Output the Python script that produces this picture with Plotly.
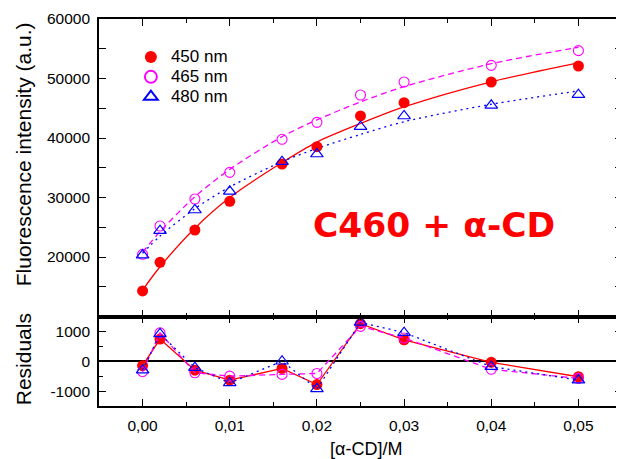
import plotly.graph_objects as go

# ---- data ----
conc = [0.0, 0.002, 0.006, 0.010, 0.016, 0.020, 0.025, 0.030, 0.040, 0.050]

int450 = [14290, 19100, 24540, 29360, 35630, 38540, 43700, 45940, 49410, 52100]
int465 = [20450, 25210, 29750, 34230, 39780, 42630, 47230, 49410, 52210, 54680]
int480 = [20330, 24430, 27900, 31040, 36020, 37310, 41900, 43700, 45490, 47280]

fit450 = [14440, 18360, 24840, 29990, 35870, 39320, 42440, 45220, 49440, 52620]
fit465 = [20800, 24260, 30140, 34730, 40220, 43040, 46060, 48630, 52480, 55250]
fit480 = [20630, 23520, 28120, 31770, 36020, 38240, 40600, 42740, 45670, 47910]

res450 = [-150, 745, -300, -635, -240, -780, 1260, 720, -35, -520]
res465 = [-350, 950, -385, -500, -440, -410, 1170, 780, -270, -575]
res480 = [-300, 915, -215, -725, 0, -925, 1300, 960, -180, -630]

series_names = ["450 nm", "465 nm", "480 nm"]

x_tickvals = [0.0, 0.01, 0.02, 0.03, 0.04, 0.05]
x_ticktext = ["0,00", "0,01", "0,02", "0,03", "0,04", "0,05"]
y_tickvals = [20000, 30000, 40000, 50000, 60000]
y_ticktext = ["20000", "30000", "40000", "50000", "60000"]
r_tickvals = [-1000, 0, 1000]
r_ticktext = ["-1000", "0", "1000"]

# ---- geometry (the page has an 8px body margin) ----
OFF = 8
W, H = 624 - OFF, 459 - OFF
L, R, T = 99 - OFF, 0, 19 - OFF
B = H - (406 - OFF)
PW, PH = W - L - R, H - T - B
split = 89.5 / PH  # bottom panel fraction


def px_x(px):
    return (px - OFF - L) / PW


def px_y(py):
    return (H - B - (py - OFF)) / PH


RED, MAG, BLUE = "#FF0000", "#FF00FF", "#0000FF"
FONT = "Arial, Liberation Sans, sans-serif"

fig = go.Figure()

styles = [
    (int450, fit450, res450, RED, dict(symbol="circle", size=11, color=RED), "solid"),
    (int465, fit465, res465, MAG, dict(symbol="circle-open", size=10, color=MAG, line=dict(width=1.1, color=MAG)), "6px,4px"),
    (int480, fit480, res480, BLUE, dict(symbol="triangle-up-open", size=11, color=BLUE, line=dict(width=1.2, color=BLUE)), "2px,4px"),
]

# fit curves (top panel)
for (d, f, r, c, m, dash) in styles:
    fig.add_trace(go.Scatter(x=conc, y=f, mode="lines", xaxis="x2", yaxis="y",
                             line=dict(color=c, width=1.3, dash=dash, shape="spline", smoothing=0.8),
                             showlegend=False, hoverinfo="skip"))
# data points (top panel)
for name, (d, f, r, c, m, dash) in zip(series_names, styles):
    fig.add_trace(go.Scatter(x=conc, y=d, mode="markers", xaxis="x2", yaxis="y",
                             marker=m, name='<span style="font-size:17px">' + name + '</span>',
                             showlegend=True))
# residuals (bottom panel)
for (d, f, r, c, m, dash) in styles:
    fig.add_trace(go.Scatter(x=conc, y=r, mode="lines+markers", xaxis="x", yaxis="y2",
                             line=dict(color=c, width=1.3, dash=dash), marker=m,
                             showlegend=False))

axis_common = dict(
    showline=True, linecolor="black", linewidth=1.6, mirror="ticks",
    ticks="inside", ticklen=7, tickwidth=1.4, tickcolor="black",
    showgrid=False, zeroline=False,
    tickfont=dict(family=FONT, size=15.5, color="black"),
)

fig.update_layout(
    width=W, height=H,
    margin=dict(l=L, r=R, t=T, b=B, pad=0),
    paper_bgcolor="white", plot_bgcolor="white",
    xaxis=dict(domain=[0, 1], anchor="y2", range=[-0.005, 0.055],
               tickmode="array", tickvals=x_tickvals, ticktext=x_ticktext,
               minor=dict(dtick=0.005, tick0=0, ticklen=4, tickwidth=1.2, tickcolor="black", ticks="inside"),
               ticklabelstandoff=5,
               **axis_common),
    xaxis2=dict(domain=[0, 1], anchor="y", matches="x", range=[-0.005, 0.055],
                tickmode="array", tickvals=x_tickvals, showticklabels=False,
                minor=dict(dtick=0.005, tick0=0, ticklen=4, tickwidth=1.2, tickcolor="black", ticks="inside"),
                **axis_common),
    yaxis=dict(domain=[split, 1], anchor="x2", range=[10000, 60000],
               tickmode="array", tickvals=y_tickvals, ticktext=y_ticktext,
               minor=dict(dtick=5000, tick0=0, ticklen=7, tickwidth=1.2, tickcolor="black", ticks="inside"),
               ticklabelstandoff=4,
               **axis_common),
    yaxis2=dict(domain=[0, split], anchor="x", range=[-1500, 1500],
                tickmode="array", tickvals=r_tickvals, ticktext=r_ticktext,
                minor=dict(dtick=500, tick0=0, ticklen=4, tickwidth=1.2, tickcolor="black", ticks="inside"),
                ticklabelstandoff=4,
                **{k: v for k, v in axis_common.items() if k != "zeroline"},
                zeroline=True, zerolinecolor="black", zerolinewidth=1.5),
    legend=dict(x=px_x(131), y=px_y(42), xanchor="left", yanchor="top",
                bgcolor="rgba(0,0,0,0)", borderwidth=0,
                font=dict(family=FONT, size=13, color="black"),
                itemsizing="constant", tracegroupgap=0),
    showlegend=True,
    annotations=[
        dict(text="Fluorescence intensity (a.u.)", xref="paper", yref="paper",
             x=px_x(24), y=px_y(154), textangle=-90, showarrow=False,
             font=dict(family=FONT, size=21, color="black"), xanchor="center", yanchor="middle"),
        dict(text="Residuals", xref="paper", yref="paper",
             x=px_x(23), y=px_y(359), textangle=-90, showarrow=False,
             font=dict(family=FONT, size=21, color="black"), xanchor="center", yanchor="middle"),
        dict(text="[α-CD]/M", xref="paper", yref="paper",
             x=px_x(367), y=px_y(461), showarrow=False,
             font=dict(family=FONT, size=18, color="black"), xanchor="center", yanchor="bottom"),
        dict(text="<b>C460 + α-CD</b>", xref="paper", yref="paper",
             x=px_x(435), y=px_y(225), showarrow=False,
             font=dict(family="DejaVu Sans", size=34.5, color=RED), xanchor="center", yanchor="middle"),
    ],
)

fig.write_html("out.html")
